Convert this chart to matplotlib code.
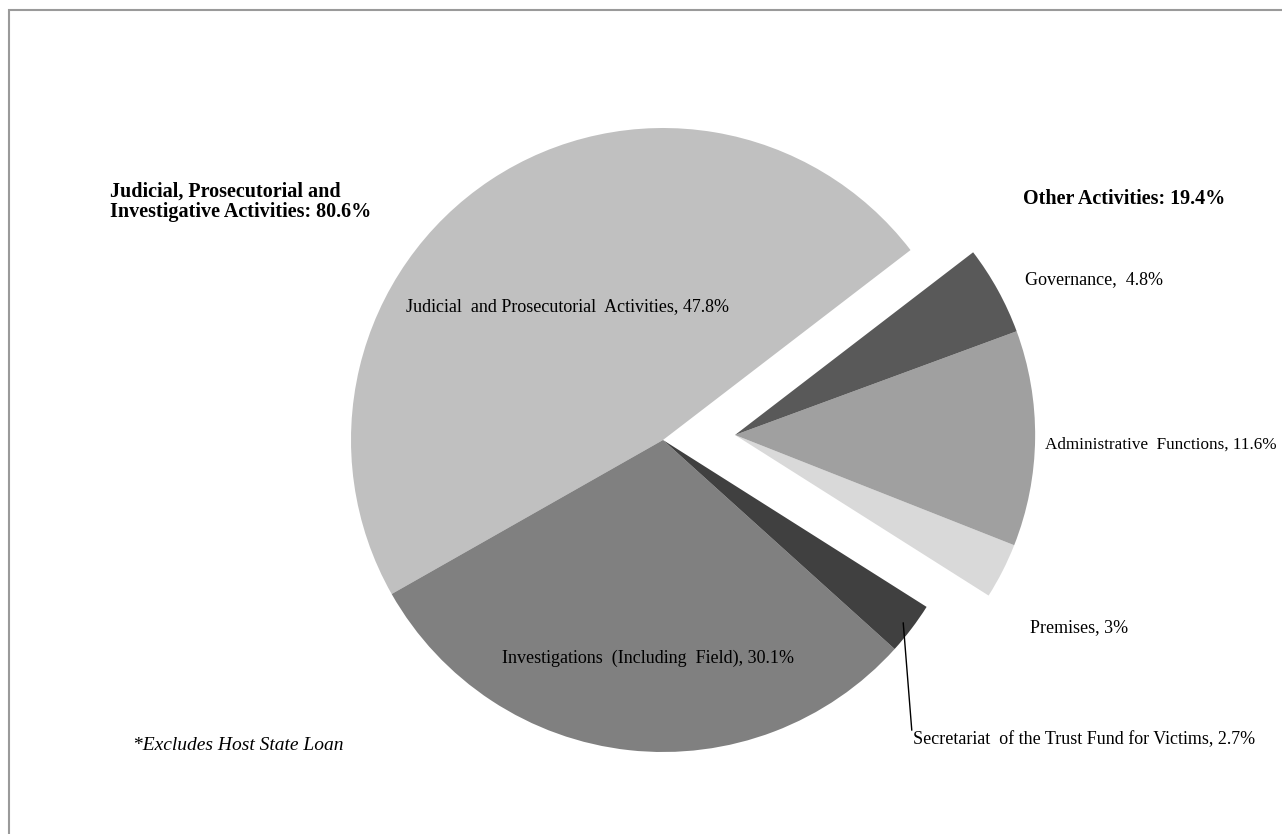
import matplotlib

matplotlib.use("Agg")

import matplotlib.pyplot as plt
from matplotlib.patches import Rectangle

# slice data (counter-clockwise from the upper-right edge of the big slice)
labels = [
    "Judicial  and Prosecutorial  Activities, 47.8%",
    "Investigations  (Including  Field), 30.1%",
    "Secretariat  of the Trust Fund for Victims, 2.7%",
    "Premises, 3%",
    "Administrative  Functions, 11.6%",
    "Governance,  4.8%",
]
shares = [47.8, 30.1, 2.7, 3.0, 11.6, 4.8]
colors = ["#c0c0c0", "#808080", "#404040", "#d9d9d9", "#a0a0a0", "#595959"]
other_group = [3, 4, 5]  # pulled out together

W, H = 1282, 834
plt.rcParams["font.family"] = ["Liberation Serif", "DejaVu Serif"]

fig = plt.figure(figsize=(W / 100, H / 100), dpi=100)
ax = fig.add_axes([0, 0, 1, 1])

cx, cy, r = 663, H - 440, 312
wedges, _ = ax.pie(shares, colors=colors, startangle=37.5, counterclock=True,
                   center=(cx, cy), radius=r, frame=True,
                   wedgeprops=dict(linewidth=0))
ax.set_xlim(0, W)
ax.set_ylim(0, H)
ax.set_aspect("equal")
ax.axis("off")
for i in other_group:
    wedges[i].set_center((cx + 72, cy + 5))
    wedges[i].set_radius(r * 0.962)

def T(x, y, s, **kw):
    ax.text(x, H - y, s, va="center", **kw)

fs = 13
T(567, 307, labels[0], fontsize=fs, ha="center")
T(648, 658, labels[1], fontsize=fs, ha="center")
T(913, 740, labels[2], fontsize=fs, ha="left")
T(1030, 628, labels[3], fontsize=fs, ha="left")
T(1045, 445, labels[4], fontsize=12.3, ha="left")
T(1025, 280, labels[5], fontsize=fs, ha="left")

ax.annotate("", xy=(903, H - 620), xytext=(912, H - 733),
            arrowprops=dict(arrowstyle="-", color="black", lw=1))

T(110, 202, "Judicial, Prosecutorial and\nInvestigative Activities: 80.6%",
  fontsize=14.5, fontweight="bold", ha="left", linespacing=1.05)
T(1023, 199, "Other Activities: 19.4%", fontsize=14.5, fontweight="bold", ha="left")
T(133, 745, "*Excludes Host State Loan", fontsize=14, style="italic", ha="left")

# outer frame (only top and left edges are visible in the picture)
fig.patches.append(Rectangle((9 / W, -0.1), 1.2, (H - 10) / H + 0.1,
                             transform=fig.transFigure, fill=False,
                             edgecolor="#9a9a9a", linewidth=1.5))

fig.savefig("out.png", dpi=100)
